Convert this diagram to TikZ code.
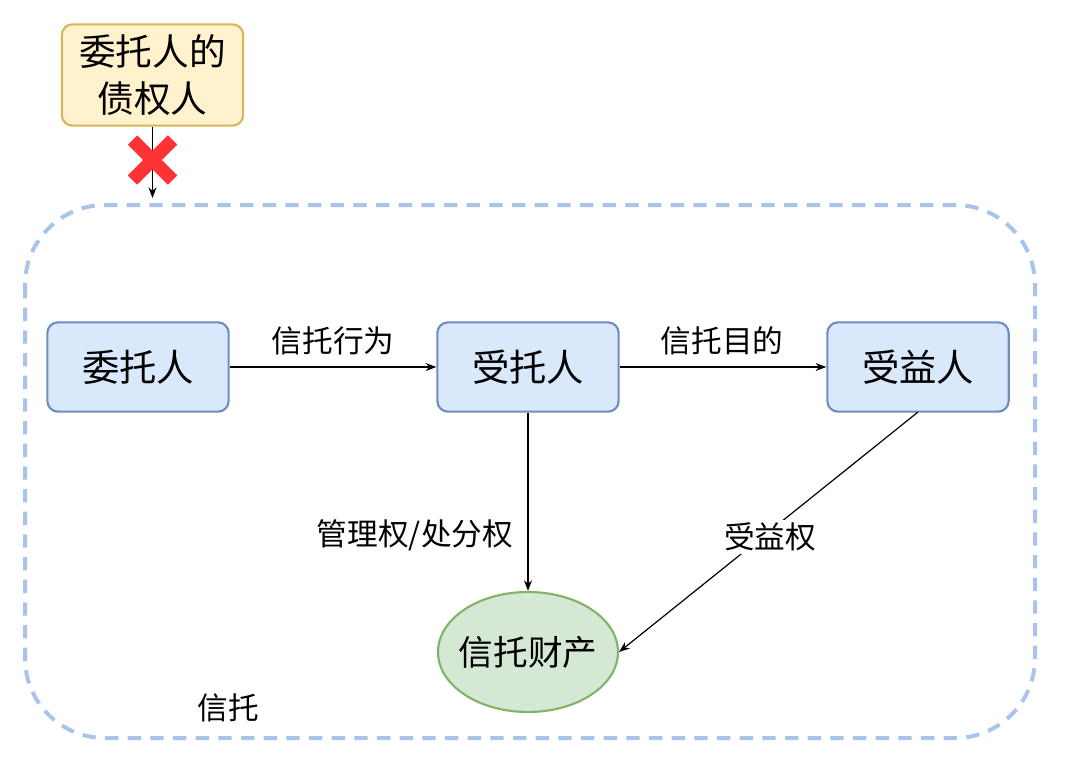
\documentclass[tikz,border=0pt]{standalone}
\usepackage{fontspec}
\setmainfont{Noto Sans CJK SC}
\usetikzlibrary{arrows.meta,shapes.geometric,calc}
\definecolor{bluefill}{HTML}{DAE8FC}
\definecolor{bluedraw}{HTML}{6C8EBF}
\definecolor{yelfill}{HTML}{FFF2CC}
\definecolor{yeldraw}{HTML}{D6B656}
\definecolor{grnfill}{HTML}{D5E8D4}
\definecolor{grndraw}{HTML}{82B366}
\definecolor{dashblue}{HTML}{A9C4EB}
\definecolor{crossred}{HTML}{FF3333}
\tikzset{
  party/.style={draw=bluedraw, fill=bluefill, line width=1.6pt, rounded corners=8pt,
    minimum width=136pt, minimum height=67pt, inner sep=0pt, font=\fontsize{28}{32}\selectfont},
  conn/.style={-{Stealth[length=8pt,width=6pt]}, line width=0.9pt},
  elabel/.style={font=\fontsize{23}{27}\selectfont, inner sep=2pt}
}
\begin{document}
\begin{tikzpicture}[x=0.75pt,y=-0.75pt]
\useasboundingbox (0,0) rectangle (1066,778);
% dashed container
\draw[dashblue, line width=3pt, dash pattern=on 10pt off 7pt, rounded corners=60pt] (25,205) rectangle (1035,738);
% top box
\node[draw=yeldraw, fill=yelfill, line width=1.6pt, rounded corners=8pt, minimum width=136pt, minimum height=76pt,
  inner sep=0pt, align=center, font=\fontsize{27.5}{35}\selectfont] (cred) at (152.5,75) {委托人的\\债权人};
\coordinate (credend) at (152.5,198);
\draw[conn] (cred.south) -- (credend);
% red cross
\coordinate (cross) at (152.5,160);
\draw[crossred, line width=10pt] ($(cross)+(-20,-20)$) -- ($(cross)+(20,20)$);
\draw[crossred, line width=10pt] ($(cross)+(-20,20)$) -- ($(cross)+(20,-20)$);
% parties
\node[party] (wtr) at (138,367) {委托人};
\node[party] (str) at (528,367) {受托人};
\node[party] (syr) at (918,367) {受益人};
% property
\node[ellipse, draw=grndraw, fill=grnfill, line width=1.6pt, minimum width=135pt, minimum height=90pt,
  inner sep=0pt] (prop) at (528,652) {};
\node[font=\fontsize{26}{30}\selectfont, inner sep=0pt] (proptext) at (prop.center) {信托财产};
% edges
\draw[conn] (wtr) -- (str);
\node[elabel] (l1) at (333,341) {信托行为};
\draw[conn] (str) -- (prop);
\draw[conn] (str) -- (syr);
\node[elabel] (l2) at (722,341) {信托目的};
\node[elabel] (l3) at (415,535) {管理权/处分权};
\coordinate (bstart) at (918,412);
\draw[conn] (bstart) -- (prop.east);
\node[elabel, fill=white] (l4) at (770,537) {受益权};
\node[elabel] (trust) at (228,708) {信托};
\end{tikzpicture}
\end{document}
